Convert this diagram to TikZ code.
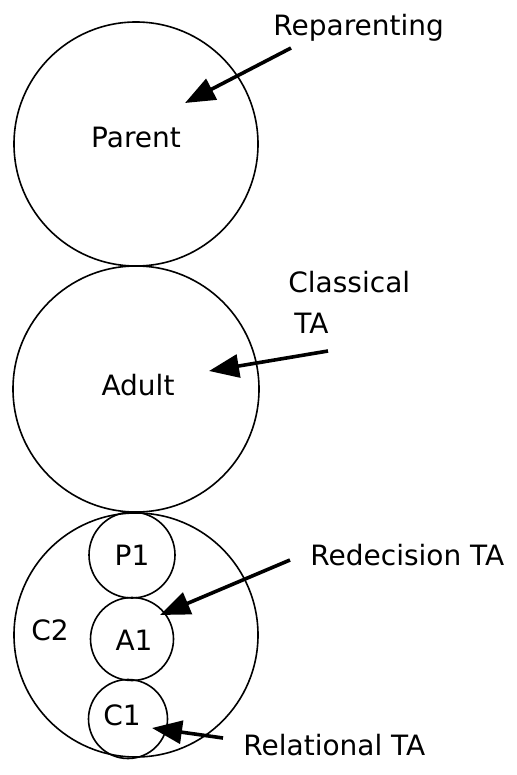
\documentclass[tikz,border=0pt]{standalone}
\usepackage{fontspec}
\setmainfont{DejaVu Sans}
\usetikzlibrary{arrows.meta}
\begin{document}
\begin{tikzpicture}[x=0.5pt,y=-0.5pt,
  ring/.style={draw,circle,line width=0.8pt,inner sep=0pt},
  word/.style={inner sep=0pt,font=\fontsize{14}{16}\selectfont},
  pointer/.style={line width=1.8pt,-{Triangle[length=15pt,width=11.5pt]}}]
\useasboundingbox (0,0) rectangle (517,775);
% ego-state circles
\node[ring,minimum size=122pt] (parent) at (136,144) {};
\node[ring,minimum size=123pt] (adult) at (136,389) {};
\node[ring,minimum size=122pt] (child) at (136,635) {};
% second-order structure inside the child
\node[ring,minimum size=43pt] (p1) at (132,555) {};
\node[ring,minimum size=41.5pt] (a1) at (132,639) {};
\node[ring,minimum size=39.5pt] (c1) at (128,719) {};
% labels
\node[word,anchor=base] (tparent) at (136,148) {Parent};
\node[word,anchor=base] (tadult) at (138,395) {Adult};
\node[word,anchor=base] (tp1) at (132,565) {P1};
\node[word,anchor=base] (ta1) at (134,650) {A1};
\node[word,anchor=base] (tc1) at (122,725) {C1};
\node[word,anchor=base] (tc2) at (50,640) {C2};
\node[word,anchor=base west] (trep) at (273,36) {Reparenting};
\node[word,anchor=base west] (tclass) at (288,292) {Classical};
\node[word,anchor=base west] (tclassb) at (294,333) {TA};
\node[word,anchor=base west] (tredec) at (310,565) {Redecision TA};
\node[word,anchor=base west] (trel) at (243,755) {Relational TA};
% arrow ends
\coordinate (repfrom) at (291,48);
\coordinate (repto) at (185,103);
\coordinate (classfrom) at (328,351);
\coordinate (classto) at (209,371);
\coordinate (redfrom) at (290,560);
\coordinate (redto) at (160,615);
\coordinate (relfrom) at (223,738);
\coordinate (relto) at (152,728);
% arrows
\draw[pointer] (repfrom) -- (repto);
\draw[pointer] (classfrom) -- (classto);
\draw[pointer] (redfrom) -- (redto);
\draw[pointer] (relfrom) -- (relto);
\end{tikzpicture}
\end{document}
